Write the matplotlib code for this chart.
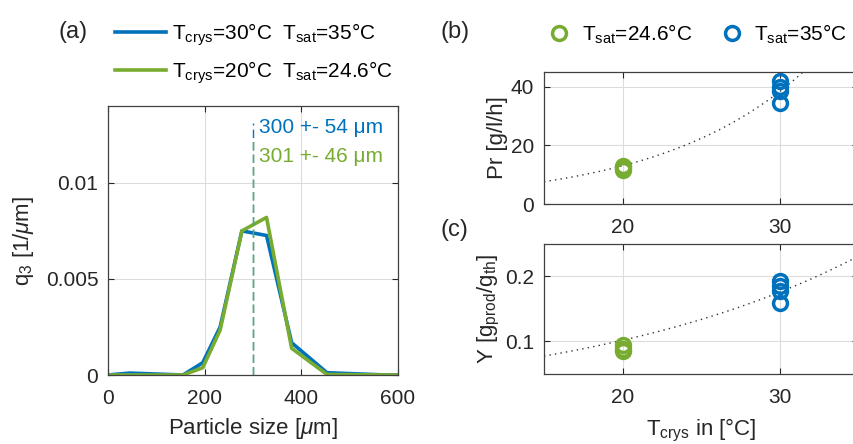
import numpy as np
import matplotlib.pyplot as plt
from matplotlib.lines import Line2D

plt.rcParams['font.family'] = ['Liberation Sans', 'DejaVu Sans']
plt.rcParams['mathtext.fontset'] = 'custom'
plt.rcParams['mathtext.rm'] = 'Liberation Sans'
plt.rcParams['mathtext.it'] = 'Liberation Sans:italic'

BLUE = '#0072BD'
GREEN = '#77AC30'
DARK = '#262626'

# (a) particle size distribution
size_um = [0, 45, 155, 196, 232, 277, 328, 380, 453, 575, 600]
q3_30 = [0, 0.0001, 0, 0.00064, 0.0025, 0.0075, 0.00726, 0.00168, 0.00012, 0, 0]
q3_20 = [0, 0, 0, 0.00038, 0.00234, 0.0075, 0.0082, 0.00139, 0.00003, 0, 0]
mean_30, std_30 = 300, 54
mean_20, std_20 = 301, 46

# (b), (c) productivity and yield vs crystallisation temperature
t_20 = [20, 20, 20]
pr_20 = [13.0, 12.3, 11.5]
y_20 = [0.094, 0.089, 0.085]
t_30 = [30, 30, 30, 30]
pr_30 = [41.8, 39.8, 38.6, 34.3]
y_30 = [0.193, 0.185, 0.178, 0.159]

# exponential fits a*exp(b*(T-15))
pr_fit = (7.6, 0.1078)
y_fit = (0.0775, 0.0546)

fig = plt.figure(figsize=(8.54, 4.44), dpi=100)
ax_a = fig.add_axes([0.1265, 0.1554, 0.3395, 0.6059])
ax_b = fig.add_axes([0.637, 0.5405, 0.3677, 0.2973])
ax_c = fig.add_axes([0.637, 0.1577, 0.3677, 0.2928])


def style(ax):
    ax.grid(True, color='#dcdcdc', lw=0.8)
    ax.set_axisbelow(True)
    ax.tick_params(direction='in', length=4, width=0.8, colors=DARK,
                   labelsize=15, top=True, right=True, pad=7)
    ax.tick_params(axis='x', pad=10)
    for sp in ax.spines.values():
        sp.set_color('#404040')
        sp.set_linewidth(0.9)


# ---- (a)
style(ax_a)
ax_a.plot(size_um, q3_30, color=BLUE, lw=2.6)
ax_a.plot(size_um, q3_20, color=GREEN, lw=2.6)
ax_a.plot([mean_30, mean_30], [0, 0.0131], color=BLUE, lw=1.0, ls=(0, (6, 3)))
ax_a.plot([mean_20, mean_20], [0, 0.0122], color=GREEN, lw=1.0, ls=(0, (6, 3)))
ax_a.text(313, 0.01286, f'{mean_30} +- {std_30} μm', color=BLUE, fontsize=15, va='center')
ax_a.text(313, 0.01135, f'{mean_20} +- {std_20} μm', color=GREEN, fontsize=15, va='center')
ax_a.set_xlim(0, 600)
ax_a.set_ylim(0, 0.014)
ax_a.set_xticks([0, 200, 400, 600])
ax_a.set_yticks([0, 0.005, 0.01])
ax_a.set_yticklabels(['0', '0.005', '0.01'])
ax_a.set_xlabel(r'Particle size [$\mu$m]', fontsize=16, color=DARK, labelpad=6)
ax_a.set_ylabel(r'q$_3$ [1/$\mu$m]', fontsize=16, color=DARK, labelpad=7)

leg_a = [Line2D([], [], color=BLUE, lw=2.6), Line2D([], [], color=GREEN, lw=2.6)]
fig.legend(leg_a, [r'T$_{\rm crys}$=30°C  T$_{\rm sat}$=35°C',
                   r'T$_{\rm crys}$=20°C  T$_{\rm sat}$=24.6°C'],
           loc='upper left', bbox_to_anchor=(0.118, 0.985), frameon=False,
           fontsize=15, handlelength=2.45, handletextpad=0.25, labelspacing=0.55,
           borderaxespad=0.3)

# ---- (b)
tt = np.linspace(15, 35, 200)
style(ax_b)
ax_b.plot(tt, pr_fit[0] * np.exp(pr_fit[1] * (tt - 15)), color='#333333', lw=1.0, ls=(0, (1, 3)))
ax_b.plot(t_20, pr_20, 'o', mfc='none', mec=GREEN, mew=2.5, ms=10)
ax_b.plot(t_30, pr_30, 'o', mfc='none', mec=BLUE, mew=2.5, ms=10)
ax_b.set_xlim(15, 35)
ax_b.set_ylim(0, 45)
ax_b.set_xticks([20, 30])
ax_b.set_yticks([0, 20, 40])
ax_b.set_ylabel('Pr [g/l/h]', fontsize=16, color=DARK, labelpad=2)

leg_b = [Line2D([], [], ls='none', marker='o', mfc='none', mec=GREEN, mew=2.5, ms=10),
         Line2D([], [], ls='none', marker='o', mfc='none', mec=BLUE, mew=2.5, ms=10)]
fig.legend(leg_b, [r'T$_{\rm sat}$=24.6°C', r'T$_{\rm sat}$=35°C'],
           loc='upper left', bbox_to_anchor=(0.625, 0.982), frameon=False, ncol=2,
           fontsize=15, handlelength=1.0, handletextpad=0.6, columnspacing=1.4,
           borderaxespad=0.3)

# ---- (c)
style(ax_c)
ax_c.plot(tt, y_fit[0] * np.exp(y_fit[1] * (tt - 15)), color='#333333', lw=1.0, ls=(0, (1, 3)))
ax_c.plot(t_20, y_20, 'o', mfc='none', mec=GREEN, mew=2.5, ms=10)
ax_c.plot(t_30, y_30, 'o', mfc='none', mec=BLUE, mew=2.5, ms=10)
ax_c.set_xlim(15, 35)
ax_c.set_ylim(0.05, 0.25)
ax_c.set_xticks([20, 30])
ax_c.set_yticks([0.1, 0.2])
ax_c.set_ylabel(r'Y [g$_{\rm prod}$/g$_{\rm th}$]', fontsize=16, color=DARK, labelpad=2)
ax_c.set_xlabel(r'T$_{\rm crys}$ in [°C]', fontsize=16, color=DARK, labelpad=7)

fig.text(0.069, 0.928, '(a)', fontsize=17, color=DARK, va='center')
fig.text(0.516, 0.928, '(b)', fontsize=17, color=DARK, va='center')
fig.text(0.516, 0.482, '(c)', fontsize=17, color=DARK, va='center')

fig.savefig('out.png', dpi=100)
